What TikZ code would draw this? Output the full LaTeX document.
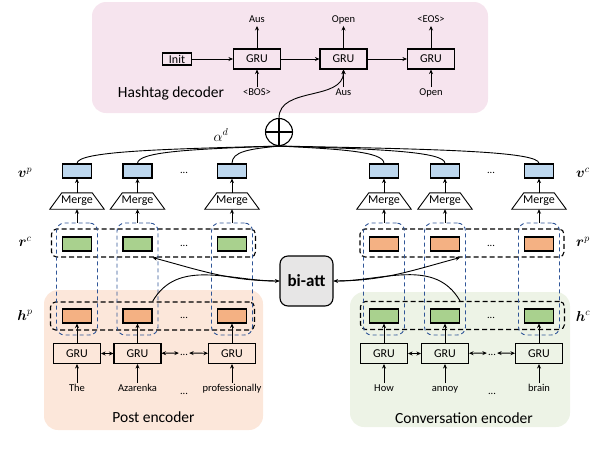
\documentclass[tikz,border=0pt]{standalone}
\usepackage{amsmath,bm}
\usepackage{fontspec}
\setmainfont{Carlito}
\usetikzlibrary{arrows.meta,positioning,calc,shapes.geometric}
\definecolor{decpink}{HTML}{F6E4EE}
\definecolor{postpeach}{HTML}{FCE7DA}
\definecolor{convgreen}{HTML}{EDF3E6}
\definecolor{vblue}{HTML}{BDD7EE}
\definecolor{cellgreen}{HTML}{A9D18E}
\definecolor{cellorange}{HTML}{F4B183}
\definecolor{attgray}{HTML}{E7E6E6}
\definecolor{coldash}{HTML}{2F5597}
\newcommand{\fs}[1]{\fontsize{#1}{#1}\selectfont}
\newcommand{\bvec}[2]{\boldsymbol{#1}^{#2}}

\begin{document}
\begin{tikzpicture}[x=1pt,y=1pt,>={Stealth[length=4.5pt,width=4pt]},
  gru/.style={draw,line width=1.1pt,minimum width=47pt,minimum height=20pt,inner sep=0pt,font=\fs{12}},
  cell/.style={draw,line width=1.1pt,minimum width=29pt,minimum height=14pt,inner sep=0pt},
  merge/.style={minimum width=54pt,minimum height=16pt,inner sep=0pt,font=\fs{12}},
  word/.style={font=\fs{10.5},text height=7.5pt,text depth=2pt,inner sep=1pt},
  rowbox/.style={draw,line width=1.1pt,dash pattern=on 5pt off 3pt,rounded corners=5pt,minimum width=204pt,minimum height=28pt},
  colbox/.style={draw=coldash,line width=0.9pt,dash pattern=on 4pt off 3pt,rounded corners=8pt,minimum width=41pt,minimum height=112pt},
  title/.style={font=\fs{15.5}},
  vlab/.style={font=\fs{14}},
  conn/.style={line width=0.9pt}]
\useasboundingbox (0,0) rectangle (594,-464);
% regions
\fill[decpink,rounded corners=14pt] (92,-2) rectangle (488,-113);
\fill[postpeach,rounded corners=14pt] (44,-290) rectangle (263,-430);
\fill[convgreen,rounded corners=14pt] (350,-292) rectangle (570,-427);
\node[title] (dectitle) at (171,-93) {Hashtag decoder};
\node[title] (posttitle) at (153.5,-417) {Post encoder};
\node[title] (convtitle) at (464,-418) {Conversation encoder};

% hashtag decoder
\node[draw,line width=1.2pt,minimum width=29pt,minimum height=12pt,inner sep=0pt,font=\fs{12}] (init) at (177,-59) {Init};
\foreach \i/\x/\o/\w in {1/257/Aus/<BOS>,2/343.5/Open/Aus,3/431/<EOS>/Open}{
  \node[gru] (dg\i) at (\x,-59) {GRU};
  \node[word] (dout\i) at (\x,-20) {\o};
  \node[word] (din\i) at (\x,-93) {\w};
  \draw[->,conn] (dg\i) -- (dout\i);
  \draw[->,conn] (din\i) -- (dg\i);
}
\draw[->,conn] (init) -- (dg1);
\draw[->,conn] (dg1) -- (dg2);
\draw[->,conn] (dg2) -- (dg3);

\node[circle,draw,line width=1.1pt,minimum size=27pt,inner sep=0pt] (oplus) at (279,-132) {};
\draw[line width=1.1pt] (oplus.north) -- (oplus.south) (oplus.west) -- (oplus.east);
\node[vlab] (alpha) at (221,-135) {$\alpha^d$};
\draw[->,conn] (oplus.north) to[out=90,in=-90] (dg2.south);

% post encoder
\node[rowbox] (rcrow) at (153.5,-243) {};
\node[rowbox] (hprow) at (152.5,-316) {};
\foreach \i/\x/\w in {1/77/The,2/137.5/Azarenka,3/232/professionally}{
  \node[colbox] (cp\i) at (\x,-279) {};
  \node[cell,fill=vblue] (vp\i) at (\x,-171) {};
  \node[merge] (mp\i) at (\x,-201) {Merge};
  \draw[line width=0.9pt] (mp\i.south west) -- (mp\i.south east) -- ([xshift=-12pt]mp\i.north east) -- ([xshift=12pt]mp\i.north west) -- cycle;
  \node[cell,fill=cellgreen] (rc\i) at (\x,-244) {};
  \node[cell,fill=cellorange] (hp\i) at (\x,-316) {};
  \node[gru] (pg\i) at (\x,-353.5) {GRU};
  \node[word] (pw\i) at (\x,-389) {\w};
  \draw[->,conn] (mp\i) -- (vp\i);
  \draw[->,conn] (cp\i.north) -- (mp\i.south);
  \draw[->,conn] (pg\i) -- (hp\i);
  \draw[->,conn] (pw\i) -- (pg\i);
}
\node[word] (vpdots) at (184,-171) {...};
\node[word] (rcdots) at (184,-244) {...};
\node[word] (hpdots) at (184,-316) {...};
\node[word] (pgdots) at (184,-353) {...};
\node[word] (pwdots) at (184,-392) {...};
\draw[<->,conn] (pg1) -- (pg2);
\draw[<->,conn] (pg2) -- (pgdots);
\draw[<->,conn] (pgdots) -- (pg3);

% conversation encoder
\node[rowbox] (rprow) at (462,-243) {};
\node[rowbox] (hcrow) at (462.5,-315.5) {};
\foreach \i/\x/\w in {1/384/How,2/445/annoy,3/539/brain}{
  \node[colbox] (cc\i) at (\x,-279) {};
  \node[cell,fill=vblue] (vc\i) at (\x,-171) {};
  \node[merge] (mc\i) at (\x,-201) {Merge};
  \draw[line width=0.9pt] (mc\i.south west) -- (mc\i.south east) -- ([xshift=-12pt]mc\i.north east) -- ([xshift=12pt]mc\i.north west) -- cycle;
  \node[cell,fill=cellorange] (rp\i) at (\x,-244) {};
  \node[cell,fill=cellgreen] (hc\i) at (\x,-316) {};
  \node[gru] (cg\i) at (\x,-353.5) {GRU};
  \node[word] (cw\i) at (\x,-389) {\w};
  \draw[->,conn] (mc\i) -- (vc\i);
  \draw[->,conn] (cc\i.north) -- (mc\i.south);
  \draw[->,conn] (cg\i) -- (hc\i);
  \draw[->,conn] (cw\i) -- (cg\i);
}
\node[word] (vcdots) at (491,-171) {...};
\node[word] (rpdots) at (491,-244) {...};
\node[word] (hcdots) at (491,-316) {...};
\node[word] (cgdots) at (492,-353) {...};
\node[word] (cwdots) at (492,-392) {...};
\draw[<->,conn] (cg1) -- (cg2);
\draw[<->,conn] (cg2) -- (cgdots);
\draw[<->,conn] (cgdots) -- (cg3);

% vector labels
\node[vlab] (lvp) at (25,-173) {$\bvec{v}{p}$};
\node[vlab] (lrc) at (25,-242) {$\bvec{r}{c}$};
\node[vlab] (lhp) at (25,-315) {$\bvec{h}{p}$};
\node[vlab] (lvc) at (583,-173) {$\bvec{v}{c}$};
\node[vlab] (lrp) at (583,-242) {$\bvec{r}{p}$};
\node[vlab] (lhc) at (583,-316) {$\bvec{h}{c}$};

% bi-attention
\node[draw,line width=1.1pt,fill=attgray,rounded corners=8pt,minimum width=53pt,minimum height=50pt,font=\bfseries\fs{17}] (biatt) at (306.5,-281) {bi-att};
\draw[->,conn] (hp2.east |- hprow.north) to[out=60,in=180] (biatt.west);
\draw[->,conn] (biatt.west) to[out=180,in=-15] (rc2.east |- rcrow.south);
\draw[->,conn] (hc2.east |- hcrow.north) to[out=120,in=0] (biatt.east);
\draw[->,conn] (biatt.east) to[out=0,in=195] (rp2.east |- rprow.south);

% merge into decoder
\foreach \b/\dx in {vp1/-120,vp2/-85,vp3/-30,vc1/60,vc2/100,vc3/160}
  \draw[conn] (\b.north) .. controls +(0,12) and +(\dx,-3) .. (oplus.south);
\end{tikzpicture}
\end{document}
